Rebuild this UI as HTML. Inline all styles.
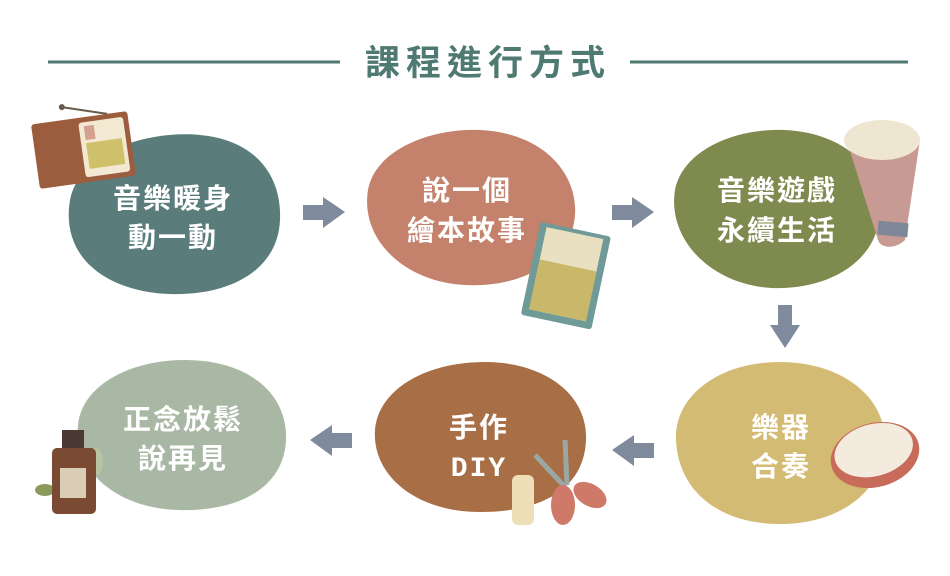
<!DOCTYPE html>
<html><head><meta charset="utf-8"><style>
html,body{margin:0;padding:0;background:#fff;}
svg{display:block;}
text{font-family:"Liberation Sans","Noto Sans CJK TC",sans-serif;font-weight:bold;fill:#fff;text-anchor:middle;}
</style></head><body>
<svg width="950" height="576" viewBox="0 0 950 576" xmlns="http://www.w3.org/2000/svg">
<line x1="48" y1="62" x2="340" y2="62" stroke="#4f7a72" stroke-width="3"/>
<line x1="630" y1="62" x2="908" y2="62" stroke="#4f7a72" stroke-width="3"/>
<text x="488" y="75" style="fill:#4f7a72;font-size:35px;letter-spacing:6px">課程進行方式</text>

<path d="M70,200 C80,150 150,130 200,135 C255,140 282,175 280,220 C278,270 230,296 170,294 C110,292 60,260 70,200Z" fill="#5a7d7b"/>
<path d="M368,190 C375,150 430,128 480,130 C545,133 578,175 575,215 C572,262 520,288 465,285 C405,282 360,240 368,190Z" fill="#c4826d"/>
<path d="M675,190 C683,150 735,128 785,130 C848,133 882,172 880,212 C878,262 828,290 772,288 C712,285 667,240 675,190Z" fill="#7f8a4e"/>
<path d="M676,440 C674,395 720,362 780,362 C840,362 884,395 885,440 C886,490 840,525 778,524 C715,523 678,488 676,440Z" fill="#d4bb74"/>
<path d="M375,430 C378,390 425,362 485,362 C545,362 588,395 586,440 C584,490 540,512 480,512 C415,512 372,475 375,430Z" fill="#a86e45"/>
<path d="M78,425 C82,385 130,360 185,360 C250,360 288,395 286,440 C284,488 238,512 178,510 C115,508 74,470 78,425Z" fill="#a9b8a4"/>

<g fill="#7f8a9c">
<path d="M303,205 H323 V197 L345,212 L323,228 V220 H303Z"/>
<path d="M612,205 H632 V197 L654,212 L632,228 V220 H612Z"/>
<path d="M778,305 H792 V325 H800 L785,348 L770,325 H778Z"/>
<path d="M654,443 H634 V435 L612,450 L634,466 V458 H654Z"/>
<path d="M352,433 H332 V425 L310,440 L332,456 V448 H352Z"/>
</g>

<g transform="rotate(-8 80 150)">
<line x1="68" y1="105" x2="112" y2="118" stroke="#6b5a4a" stroke-width="2"/>
<circle cx="68" cy="105" r="3" fill="#6b5a4a"/>
<rect x="35" y="118" width="97" height="65" rx="3" fill="#9b5d3e"/>
<rect x="82" y="123" width="45" height="55" rx="3" fill="#f3e8d2"/>
<rect x="87" y="144" width="36" height="26" fill="#cfc06a"/>
<rect x="87" y="127" width="10" height="14" fill="#d4a090"/>
</g>

<g transform="rotate(12 565 275)">
<rect x="530" y="228" width="72" height="95" rx="3" fill="#6f9a98"/>
<rect x="537" y="232" width="58" height="84" fill="#e9e0c2"/>
<rect x="537" y="265" width="58" height="51" fill="#c9b86a"/>
</g>

<path d="M848,145 C850,120 910,118 920,140 L905,240 C895,250 880,248 878,240Z" fill="#c89a94"/>
<ellipse cx="882" cy="140" rx="38" ry="20" fill="#efe6d2"/>
<rect x="878" y="222" width="30" height="14" fill="#7d8797" transform="rotate(5 893 229)"/>

<g transform="rotate(-15 875 455)">
<ellipse cx="875" cy="455" rx="45" ry="32" fill="#c86b5a"/>
<ellipse cx="875" cy="450" rx="40" ry="26" fill="#f3ebdd"/>
</g>

<rect x="512" y="475" width="22" height="50" rx="6" fill="#eedfb8"/>
<line x1="535" y1="455" x2="565" y2="487" stroke="#9aa7a3" stroke-width="5"/>
<line x1="565" y1="440" x2="567" y2="485" stroke="#9aa7a3" stroke-width="5"/>
<ellipse cx="563" cy="505" rx="12" ry="20" fill="#cf7a68"/>
<ellipse cx="590" cy="495" rx="18" ry="11" fill="#cf7a68" transform="rotate(30 590 495)"/>

<ellipse cx="45" cy="490" rx="10" ry="6" fill="#8a9a5a"/>
<ellipse cx="95" cy="462" rx="8" ry="14" fill="#b8c4a0"/>
<rect x="62" y="430" width="22" height="20" fill="#4a3a33"/>
<rect x="52" y="448" width="44" height="66" rx="5" fill="#7a4a32"/>
<rect x="60" y="468" width="26" height="30" fill="#d9ceb5"/>

<g style="font-size:28px;letter-spacing:2px">
<text x="173" y="208">音樂暖身</text>
<text x="173" y="247">動一動</text>
<text x="467" y="200">說一個</text>
<text x="467" y="240">繪本故事</text>
<text x="777" y="200">音樂遊戲</text>
<text x="777" y="240">永續生活</text>
<text x="781" y="437">樂器</text>
<text x="781" y="476">合奏</text>
<text x="479" y="437">手作</text>
<text x="479" y="476" style="font-family:'Liberation Mono',monospace">DIY</text>
<text x="183" y="429">正念放鬆</text>
<text x="183" y="468">說再見</text>
</g>
</svg>
</body></html>
